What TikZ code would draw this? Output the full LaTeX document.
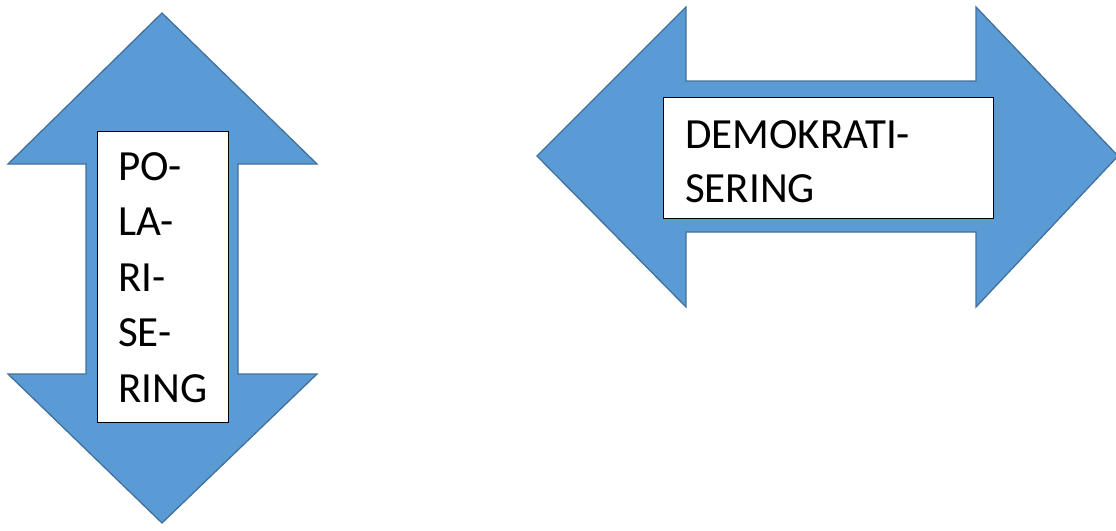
\documentclass[tikz,border=0pt]{standalone}
\usepackage{fontspec}
\setmainfont{Carlito}
\definecolor{arrowfill}{HTML}{5B9BD5}
\definecolor{arrowline}{HTML}{41719C}
\begin{document}
\begin{tikzpicture}[x=1pt,y=-1pt,
  arrowshape/.style={fill=arrowfill,draw=arrowline,line width=1.3pt,line join=miter},
  labelbox/.style={draw=black,fill=white,line width=1pt,inner sep=0pt},
  lbl/.style={font=\fontsize{43}{52}\selectfont,anchor=base west,inner sep=0pt}]
\useasboundingbox (0,0) rectangle (1116,530);
% vertical double arrow
\draw[arrowshape] (162,13) -- (317,164) -- (238,164) -- (238,374) -- (317,374)
  -- (162,523) -- (8,374) -- (86,374) -- (86,164) -- (8,164) -- cycle;
\node[labelbox,minimum width=131pt,minimum height=291pt] (pbox) at (162.5,276.5) {};
\node[lbl] (p1) at (118,180) {PO-};
\node[lbl] (p2) at (118,235.5) {LA-};
\node[lbl] (p3) at (118,291) {RI-};
\node[lbl] (p4) at (118,346.5) {SE-};
\node[lbl] (p5) at (118,402) {RING};
% horizontal double arrow
\draw[arrowshape] (537,156) -- (686,7) -- (686,81) -- (976,81) -- (976,7)
  -- (1118,156) -- (976,307) -- (976,232) -- (686,232) -- (686,307) -- cycle;
\node[labelbox,minimum width=330pt,minimum height=121pt] (dbox) at (828,157.5) {};
\node[lbl] (d1) at (685,148) {DEMOKRATI-};
\node[lbl] (d2) at (685,202) {SERING};
\end{tikzpicture}
\end{document}
